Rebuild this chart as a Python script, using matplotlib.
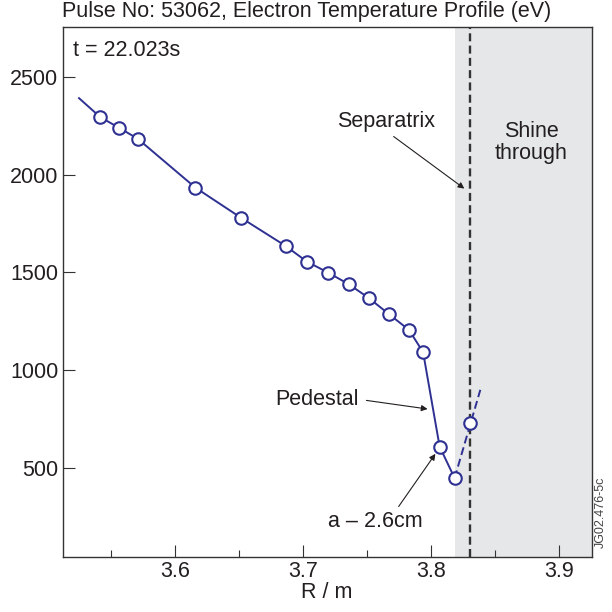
import matplotlib.pyplot as plt
from matplotlib.ticker import MultipleLocator

plt.rcParams['font.family'] = ['Liberation Sans', 'DejaVu Sans']

# measured Thomson points (R in m, Te in eV)
radius = [3.5416, 3.5559, 3.5708, 3.6159, 3.6513, 3.6864, 3.7030, 3.7195,
          3.7356, 3.7516, 3.7672, 3.7828, 3.7938, 3.8067, 3.8184, 3.8302]
temp = [2293, 2240, 2183, 1933, 1780, 1635, 1555, 1499,
        1440, 1368, 1286, 1206, 1092, 610, 449, 733]

# ends of the drawn profile line
line_start = (3.525, 2390)
dash_end = (3.8385, 900)

shine_from = 3.8184
separatrix = 3.8307
x_ticks = [3.6, 3.7, 3.8, 3.9]
y_ticks = [500, 1000, 1500, 2000, 2500]

BLUE = '#2e3192'
TXT = '#231f20'
FS = 15.5

fig = plt.figure(figsize=(6.12, 6.12), dpi=100)
ax = fig.add_axes([62.5 / 612, 55 / 612, 529.2 / 612, 529.7 / 612])
ax.set_xlim(3.5121, 3.9255)
ax.set_ylim(46, 2752)

ax.axvspan(shine_from, 4.0, color='#e6e7e8', lw=0, zorder=0)
ax.axvline(separatrix, color='#333333', lw=1.7, dashes=(3.4, 1.8), zorder=1)

# solid profile up to the pedestal foot, dashed into the shine-through region
ax.plot([line_start[0]] + radius[:15], [line_start[1]] + temp[:15],
        color=BLUE, lw=1.4, zorder=2)
ax.plot([radius[14], dash_end[0]], [temp[14], dash_end[1]],
        color=BLUE, lw=1.4, dashes=(4.1, 2.1), zorder=2)
ax.plot(radius, temp, 'o', ms=9, mfc='white', mec=BLUE, mew=1.5, zorder=3)

arrow = dict(arrowstyle='-|>', color=TXT, lw=0.8, mutation_scale=9,
             shrinkA=0, shrinkB=0)
ax.text(3.7648, 2269, 'Separatrix', fontsize=FS, color=TXT,
        ha='center', va='center')
ax.annotate('', xy=(3.826, 1928), xytext=(3.7708, 2194), arrowprops=arrow)
ax.text(3.8784, 2163, 'Shine\nthrough', fontsize=FS, color=TXT,
        ha='center', va='center', linespacing=1.1)
ax.text(3.711, 849, 'Pedestal', fontsize=FS, color=TXT,
        ha='center', va='center')
ax.annotate('', xy=(3.7973, 802), xytext=(3.7495, 846), arrowprops=arrow)
ax.text(3.7565, 227, 'a \u2013 2.6cm', fontsize=FS, color=TXT,
        ha='center', va='center')
ax.annotate('', xy=(3.8034, 573), xytext=(3.7747, 304), arrowprops=arrow)
ax.text(0.0193, 0.957, 't = 22.023s', transform=ax.transAxes, fontsize=FS,
        color=TXT, ha='left', va='center')

ax.set_xticks(x_ticks)
ax.set_xticklabels([f'{v:.1f}' for v in x_ticks])
ax.xaxis.set_minor_locator(MultipleLocator(0.05))
ax.set_yticks(y_ticks)
ax.tick_params(axis='both', which='major', direction='in', length=8.6,
               width=0.8, color='#333333', labelsize=FS, labelcolor=TXT, pad=3)
ax.tick_params(axis='x', which='minor', direction='in', length=5,
               width=0.8, color='#333333')
for s in ax.spines.values():
    s.set_color('#333333')
    s.set_linewidth(1.0)

ax.set_xlabel('R / m', fontsize=FS, color=TXT, labelpad=0)
fig.text(62 / 612, 1 - 12 / 612, 'Pulse No: 53062, Electron Temperature Profile (eV)',
         fontsize=FS, color=TXT, ha='left', va='center')
fig.text(600.7 / 612, 64 / 612, 'JG02.476-5c', fontsize=9, color='#444444',
         rotation=90, ha='center', va='bottom')

fig.savefig('out.png', dpi=100)
